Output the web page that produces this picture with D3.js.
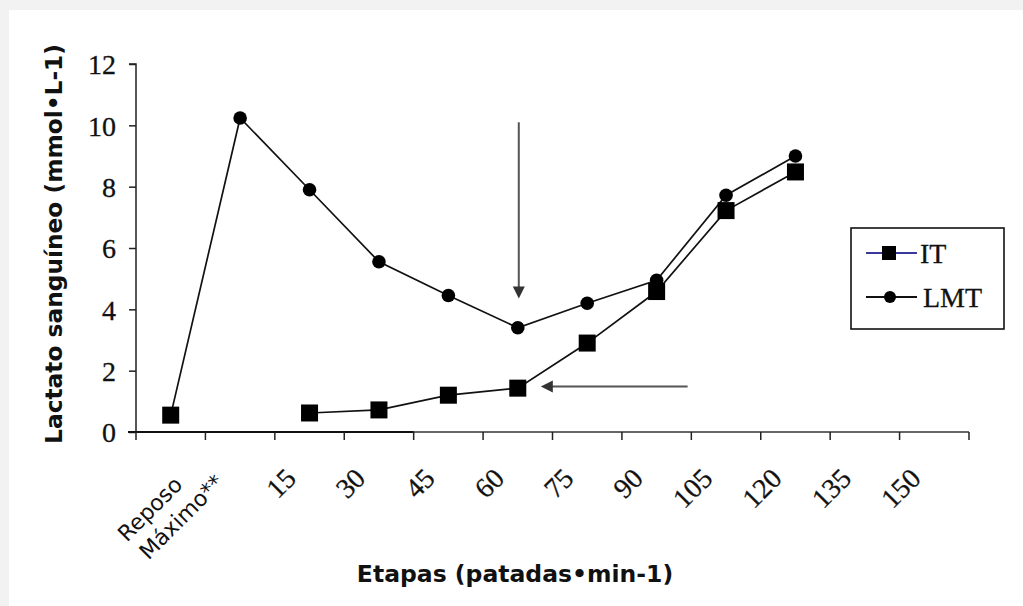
<!DOCTYPE html>
<html><head><meta charset="utf-8">
<script src="https://cdn.jsdelivr.net/npm/d3@7"></script>
<style>
html,body{margin:0;padding:0;background:#f2f2f2;}
svg{display:block;}
</style></head>
<body>
<svg id="chart" width="1023" height="606"></svg>
<script>
const categories = ["Reposo","Máximo**","15","30","45","60","75","90","105","120","135","150"];
const itValues  = [0.55, null, 0.62, 0.72, 1.2, 1.43, 2.9, 4.58, 7.22, 8.48, null, null];
const lmtValues = [0.55, 10.24, 7.9, 5.55, 4.45, 3.4, 4.2, 4.95, 7.72, 9.0, null, null];
const yTicks = [0,2,4,6,8,10,12];
const seriesNames = ["IT","LMT"];
const yTitle = "Lactato sanguíneo (mmol•L-1)";
const xTitle = "Etapas (patadas•min-1)";

const svg = d3.select("#chart");
svg.append("rect").attr("x",9).attr("y",10).attr("width",1014).attr("height",596).attr("fill","#fff");

const x = d3.scaleBand().domain(categories).range([136, 969]).padding(0);
const y = d3.scaleLinear().domain([0,12]).range([432, 64]);
const bw = x.bandwidth();
const xc = c => x(c) + bw/2;

const serif = "'Liberation Serif','Times New Roman',serif";
const sans = "'DejaVu Sans',Verdana,sans-serif";

// Y axis
const yAxis = svg.append("g").attr("transform","translate(136,0)")
  .call(d3.axisLeft(y).tickValues(yTicks).tickSize(7).tickPadding(13).tickFormat(d3.format("d")));
yAxis.select(".domain").attr("stroke","#222").attr("stroke-width",1.5).attr("d","M-7,64H0V432");
yAxis.selectAll(".tick line").attr("stroke","#222").attr("stroke-width",1.5);
yAxis.selectAll(".tick text").attr("font-family",serif).attr("font-size",28).attr("fill","#111")
  .attr("stroke","#111").attr("stroke-width",0.3).attr("dy","0.35em");

// X axis line and boundary ticks
const bounds = categories.map(c => x(c)).concat([x.range()[1]]);
svg.append("line").attr("x1",128).attr("x2",969).attr("y1",y(0)).attr("y2",y(0)).attr("stroke","#333").attr("stroke-width",1.5);
svg.append("line").attr("x1",128).attr("x2",x("45")).attr("y1",y(0)).attr("y2",y(0)).attr("stroke","#111").attr("stroke-width",2.2);
svg.append("g").selectAll("line").data(bounds).join("line")
  .attr("x1",d=>d).attr("x2",d=>d).attr("y1",y(0)).attr("y2",y(0)+8)
  .attr("stroke","#222").attr("stroke-width",1.5);

// X tick labels
const labelOffsets = {"Reposo":[13,486], "Máximo**":[-15,484]};
svg.append("g").selectAll("text").data(categories).join("text")
  .attr("transform", c => {
    const o = labelOffsets[c];
    const px = o ? xc(c)+o[0] : xc(c)-12;
    const py = o ? o[1] : 480;
    return `translate(${px},${py}) rotate(-45)`;
  })
  .attr("text-anchor","end")
  .attr("font-family", c => labelOffsets[c] ? sans : serif)
  .attr("font-size", c => labelOffsets[c] ? 22 : 28)
  .attr("fill","#111")
  .attr("stroke","#111").attr("stroke-width", c => labelOffsets[c] ? 0 : 0.3)
  .text(c => c);

// Titles
svg.append("text").attr("x",515).attr("y",582).attr("text-anchor","middle")
  .attr("font-family",sans).attr("font-weight","bold").attr("font-size",23.5).attr("fill","#111").text(xTitle);
svg.append("text").attr("transform","translate(62,244) rotate(-90)").attr("text-anchor","middle")
  .attr("font-family",sans).attr("font-weight","bold").attr("font-size",23.3).attr("fill","#111").text(yTitle);

// Lines
const line = vals => d3.line().defined((d,i)=>vals[i]!==null).x((d,i)=>xc(categories[i])).y((d,i)=>y(vals[i]))(vals);
svg.append("path").attr("d", line(lmtValues)).attr("fill","none").attr("stroke","#111").attr("stroke-width",1.7);
svg.append("path").attr("d", line(itValues)).attr("fill","none").attr("stroke","#111").attr("stroke-width",1.7);

// Markers
const lmtPts = categories.map((c,i)=>({c,v:lmtValues[i]})).filter(d=>d.v!==null);
const itPts = categories.map((c,i)=>({c,v:itValues[i]})).filter(d=>d.v!==null);
svg.append("g").selectAll("circle").data(lmtPts).join("circle")
  .attr("cx",d=>xc(d.c)).attr("cy",d=>y(d.v)).attr("r",6.8).attr("fill","#000");
const sq = 17;
svg.append("g").selectAll("rect").data(itPts).join("rect")
  .attr("x",d=>xc(d.c)-sq/2).attr("y",d=>y(d.v)-sq/2).attr("width",sq).attr("height",sq).attr("fill","#000");

// Arrows
const arrowColor = "#555";
const vx = xc("60")+1, vTop = y(10.1), vTip = y(4.35);
svg.append("line").attr("x1",vx).attr("x2",vx).attr("y1",vTop).attr("y2",vTip-10).attr("stroke",arrowColor).attr("stroke-width",2);
svg.append("path").attr("d",`M${vx-6},${vTip-12}L${vx+6},${vTip-12}L${vx},${vTip}Z`).attr("fill","#333");
const hy = y(1.48), hTip = xc("60")+23, hTail = xc("90")+31;
svg.append("line").attr("x1",hTip+10).attr("x2",hTail).attr("y1",hy).attr("y2",hy).attr("stroke",arrowColor).attr("stroke-width",2);
svg.append("path").attr("d",`M${hTip+12},${hy-6}L${hTip+12},${hy+6}L${hTip},${hy}Z`).attr("fill","#333");

// Legend
const lg = svg.append("g");
lg.append("rect").attr("x",851).attr("y",228).attr("width",153).attr("height",101).attr("fill","#fff").attr("stroke","#111").attr("stroke-width",1.6);
const legendRows = [{name:seriesNames[0], y:253, color:"#3a3a9c", marker:"square"},{name:seriesNames[1], y:297, color:"#111", marker:"circle"}];
legendRows.forEach(r=>{
  lg.append("line").attr("x1",866).attr("x2",917).attr("y1",r.y).attr("y2",r.y).attr("stroke",r.color).attr("stroke-width",1.8);
  if(r.marker==="square") lg.append("rect").attr("x",882).attr("y",r.y-7).attr("width",14).attr("height",14).attr("fill","#000");
  else lg.append("circle").attr("cx",890).attr("cy",r.y).attr("r",6).attr("fill","#000");
  lg.append("text").attr("x",r.marker==="square"?920:923).attr("y",r.y+10).attr("font-family",serif).attr("font-size",28)
    .attr("fill","#111").attr("stroke","#111").attr("stroke-width",0.3).text(r.name);
});
</script>
</body></html>
